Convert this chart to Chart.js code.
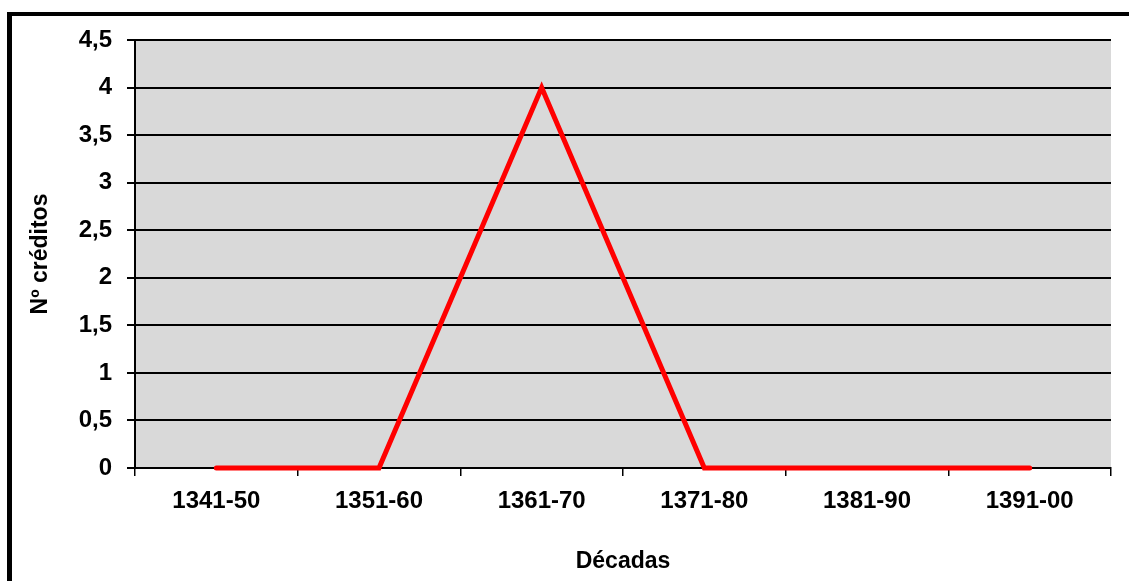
<!DOCTYPE html>
<html>
<head>
<meta charset="utf-8">
<script src="https://cdn.jsdelivr.net/npm/chart.js@4"></script>
<style>
  html, body { margin: 0; padding: 0; background: #fff; }
  #wrap { position: relative; width: 1129px; height: 581px; }
</style>
</head>
<body>
<div id="wrap"><canvas id="creditChart" width="1129" height="581"></canvas></div>
<script>
const decades = ['1341-50', '1351-60', '1361-70', '1371-80', '1381-90', '1391-00'];
const credits = [0, 0, 4, 0, 0, 0];
const yTicks = [0, 0.5, 1, 1.5, 2, 2.5, 3, 3.5, 4, 4.5];

const FONT = "'Liberation Sans Narrow', 'Arial Narrow', 'Liberation Sans', Arial, sans-serif";

// gray plot background + outer black frame
const frame = {
    id: 'frame',
    beforeDraw(chart) {
        const { ctx, chartArea } = chart;
        ctx.save();
        ctx.fillStyle = '#d9d9d9';
        ctx.fillRect(chartArea.left, chartArea.top, chartArea.right - chartArea.left, chartArea.bottom - chartArea.top);
        ctx.fillStyle = '#000';
        ctx.fillRect(7, 12, 5, 581);
        ctx.fillRect(7, 12, 1129, 4);
        ctx.restore();
    }
};

window.onload = function() {
    const ctx = document.getElementById('creditChart').getContext('2d');

    new Chart(ctx, {
        type: 'line',
        data: {
            labels: decades,
            datasets: [{
                data: credits,
                borderColor: '#ff0000',
                borderWidth: 5,
                borderCapStyle: 'round',
                pointRadius: 0,
                tension: 0,
                clip: false
            }]
        },
        options: {
            responsive: false,
            animation: false,
            layout: { padding: { top: 40, right: 18, left: 0, bottom: 0 } },
            plugins: {
                legend: { display: false },
                tooltip: { enabled: false }
            },
            scales: {
                x: {
                    offset: true,
                    afterFit(scale) { scale.height = 113; },
                    grid: {
                        offset: true,
                        drawOnChartArea: false,
                        drawTicks: true,
                        tickLength: 8,
                        color: '#000',
                        lineWidth: 1.5
                    },
                    border: { display: true, color: '#000', width: 2 },
                    ticks: {
                        color: '#000',
                        padding: 11,
                        maxRotation: 0,
                        font: { family: FONT, size: 24, weight: 'bold' }
                    },
                    title: {
                        display: true,
                        text: 'Décadas',
                        color: '#000',
                        padding: { top: 16, bottom: 6 },
                        font: { family: FONT, size: 23, weight: 'bold' }
                    }
                },
                y: {
                    min: 0,
                    max: 4.5,
                    afterFit(scale) { scale.width = 135; },
                    afterBuildTicks(scale) {
                        scale.ticks = yTicks.map(v => ({ value: v }));
                    },
                    grid: {
                        color: '#000',
                        lineWidth: 2,
                        tickLength: 8
                    },
                    border: { display: true, color: '#000', width: 2 },
                    ticks: {
                        color: '#000',
                        padding: 15,
                        font: { family: FONT, size: 24, weight: 'bold' },
                        callback: v => String(v).replace('.', ',')
                    },
                    title: {
                        display: true,
                        text: 'Nº créditos',
                        color: '#000',
                        padding: { top: 27, bottom: 0 },
                        font: { family: FONT, size: 23, weight: 'bold' }
                    }
                }
            }
        },
        plugins: [frame]
    });
};
</script>
</body>
</html>
